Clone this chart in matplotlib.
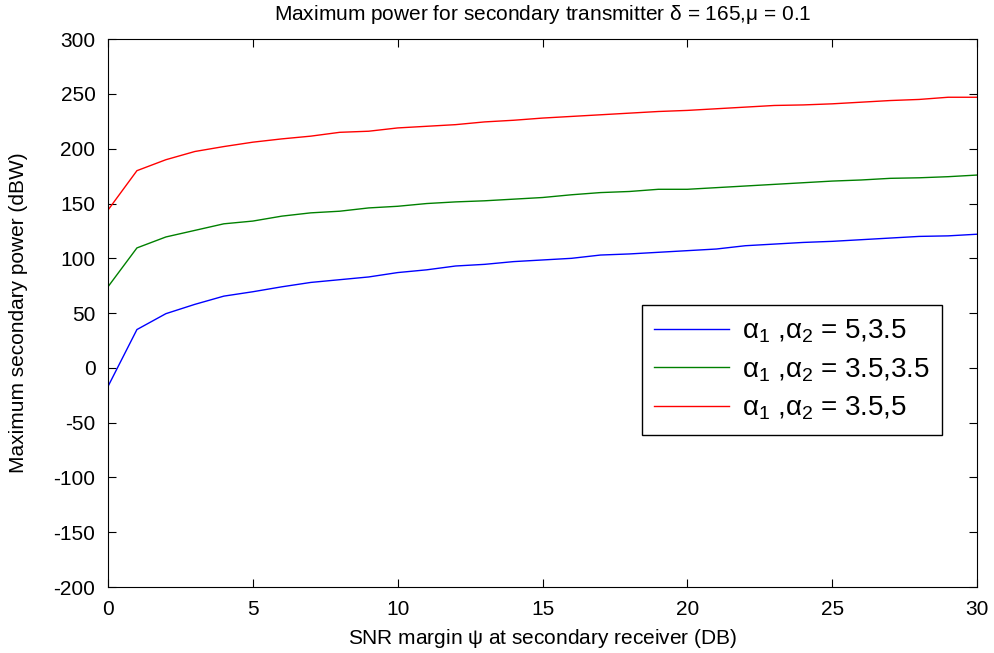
import numpy as np
import matplotlib
matplotlib.use('Agg')
import matplotlib.pyplot as plt

plt.rcParams['font.family'] = ['Liberation Sans Narrow', 'Liberation Sans', 'DejaVu Sans']
plt.rcParams['mathtext.fontset'] = 'custom'
plt.rcParams['mathtext.rm'] = 'Liberation Sans'
plt.rcParams['mathtext.it'] = 'Liberation Sans'
plt.rcParams['axes.unicode_minus'] = False

snr = list(range(0, 31))

p_5_35 = [-17, 35, 49.5, 58, 65.5, 69.5, 74, 78, 80.5, 83, 87, 89.5, 93, 94.5, 97, 98.5,
          100, 103, 104, 105.5, 107, 108.5, 111.5, 113, 114.5, 115.5, 117, 118.5, 120, 120.5, 122]
p_35_35 = [74, 109.5, 119.5, 125.5, 131.5, 134, 138.5, 141.5, 143, 146, 147.5, 150, 151.5, 152.5, 154, 155.5,
           158, 160, 161, 163, 163, 164.5, 166, 167.5, 169, 170.5, 171.5, 173, 173.5, 174.5, 176]
p_35_5 = [144, 180, 190, 197.5, 202, 206, 209, 211.5, 215, 216, 219, 220.5, 222, 224.5, 226, 228,
          229.5, 231, 232.5, 234, 235, 236.5, 238, 239.5, 240, 241, 242.5, 244, 245, 247, 247]

fig = plt.figure(figsize=(9.95, 6.53), dpi=100)
ax = fig.add_axes([0.1085, 0.101, 0.8735, 0.839])

ax.plot(snr, p_5_35, color='blue', lw=1.0, label=r'$\alpha_1$ ,$\alpha_2$ = 5,3.5')
ax.plot(snr, p_35_35, color='green', lw=1.0, label=r'$\alpha_1$ ,$\alpha_2$ = 3.5,3.5')
ax.plot(snr, p_35_5, color='red', lw=1.0, label=r'$\alpha_1$ ,$\alpha_2$ = 3.5,5')

ax.set_xlim(0, 30)
ax.set_ylim(-200, 300)
ax.set_xticks(range(0, 31, 5))
ax.set_yticks(range(-200, 301, 50))
ax.tick_params(direction='in', top=True, right=True, labelsize=15, length=6)
ax.tick_params(axis='x', pad=9)
ax.tick_params(axis='y', pad=9)

ax.set_title(r'Maximum power for secondary transmitter $\delta$ = 165,$\mu$ = 0.1', fontsize=15, pad=14)
ax.set_xlabel(r'SNR margin $\psi$ at secondary receiver (DB)', fontsize=15, labelpad=6)
ax.set_ylabel('Maximum secondary power (dBW)', fontsize=15, labelpad=18)

leg = ax.legend(loc='upper left', bbox_to_anchor=(0.598, 0.540), fontsize=20,
                fancybox=False, edgecolor='black', framealpha=1, handlelength=2.7,
                handletextpad=0.45, labelspacing=0.4, borderpad=0.45)
leg.get_frame().set_linewidth(1.0)

fig.savefig('out.png', dpi=100)
